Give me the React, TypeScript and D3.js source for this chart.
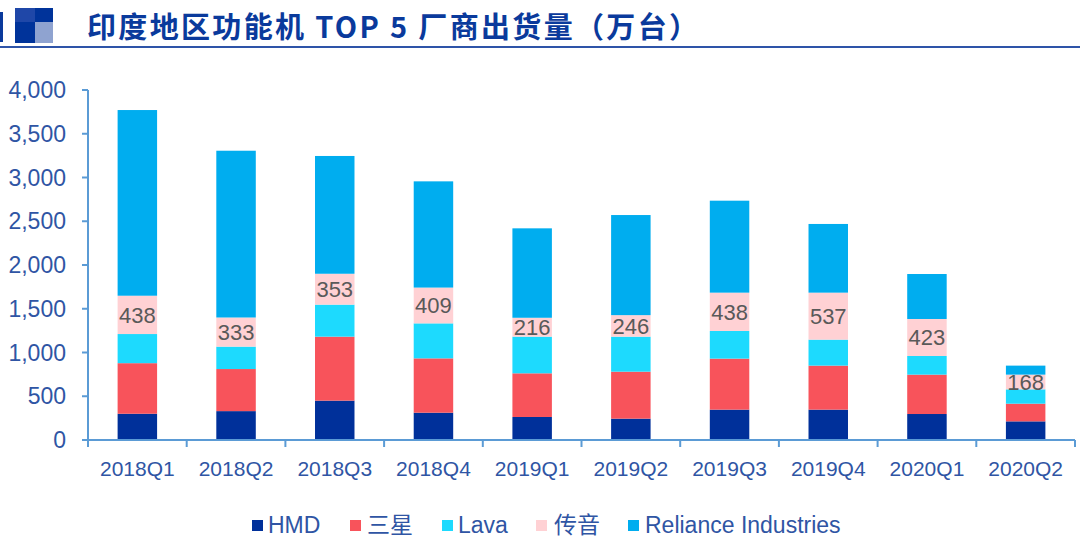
import React from "react";
import * as d3 from "d3";

const categories = ["2018Q1","2018Q2","2018Q3","2018Q4","2019Q1","2019Q2","2019Q3","2019Q4","2020Q1","2020Q2"];
const seriesNames = ["HMD","三星","Lava","传音","Reliance Industries"];
const hmd = [300, 330, 450, 312, 263, 244, 347, 347, 297, 213];
const samsung = [578, 481, 731, 621, 499, 537, 583, 503, 450, 202];
const lava = [333, 256, 366, 400, 419, 400, 316, 297, 213, 164];
const transsion = [438, 333, 353, 409, 216, 246, 438, 537, 423, 168];
const reliance = [2122, 1906, 1346, 1214, 1022, 1144, 1051, 785, 514, 103];
const yTicks = [0, 500, 1000, 1500, 2000, 2500, 3000, 3500, 4000];
const colors = ["#00309A", "#F8535B", "#1DDAFE", "#FFD1D4", "#00ADEF"];

const W = 1080, H = 557;
const axisColor = "#5B9BD5";
const textColor = "#2F55A4";
const font = "'Liberation Sans', Arial, 'Noto Sans CJK SC', sans-serif";

export default function App() {
  const rows = categories.map((c, i) => ({
    cat: c,
    s0: hmd[i], s1: samsung[i], s2: lava[i], s3: transsion[i], s4: reliance[i],
  }));
  const keys = ["s0", "s1", "s2", "s3", "s4"];
  const stack = d3.stack<any>().keys(keys)(rows);

  const x = d3.scaleBand<string>().domain(categories).range([88, 1075]).paddingInner(0.6).paddingOuter(0.3);
  const y = d3.scaleLinear().domain([0, 4000]).range([440, 90]);
  const step = x.step();
  const x0 = 88;

  const legendPos = [
    { sq: 252, tx: 268 },
    { sq: 350, tx: 367 },
    { sq: 442, tx: 458 },
    { sq: 536, tx: 554 },
    { sq: 628, tx: 645 },
  ];

  return (
    <svg width={W} height={H} style={{ position: "absolute", left: 0, top: 0, background: "#fff" }} fontFamily={font}>
      <rect x={0} y={0} width={W} height={H} fill="#fff" />
      {/* title icon */}
      <rect x={0} y={12} width={3} height={30} fill="#0A3A9C" />
      <rect x={15} y={8} width={20} height={14} fill="#1F47A8" />
      <rect x={35} y={8} width={18} height={14} fill="#00339A" />
      <rect x={15} y={22} width={20} height={21} fill="#00339A" />
      <rect x={35} y={22} width={18} height={21} fill="#8FA3D0" />
      <text x={87} y={38} fontSize={29} fontWeight={700} fill="#0A3A9C"
        fontFamily="'Noto Sans CJK SC', 'Noto Sans', sans-serif" textLength={611} lengthAdjust="spacing">
        印度地区功能机 TOP 5 厂商出货量（万台）
      </text>
      <rect x={0} y={46} width={W} height={2} fill="#2E54A8" />

      {/* bars */}
      {stack.map((layer, si) => (
        <g key={si} fill={colors[si]}>
          {layer.map((d: any, i: number) => (
            <rect key={i} x={x(categories[i])} y={y(d[1])} width={x.bandwidth()} height={y(d[0]) - y(d[1])} />
          ))}
        </g>
      ))}
      {/* 传音 labels */}
      {stack[3].map((d: any, i: number) => (
        <text key={i} x={(x(categories[i]) as number) + x.bandwidth() / 2} y={(y(d[0]) + y(d[1])) / 2 + 8}
          textAnchor="middle" fontSize={22} fill="#595959">{transsion[i]}</text>
      ))}

      {/* y axis */}
      <line x1={x0} x2={x0} y1={y(4000)} y2={y(0)} stroke={axisColor} strokeWidth={2} />
      {yTicks.map((t) => (
        <g key={t}>
          <line x1={x0 - 6} x2={x0} y1={y(t)} y2={y(t)} stroke={axisColor} strokeWidth={2} />
          <text x={66} y={y(t) + 8} textAnchor="end" fontSize={23} fill={textColor}>{d3.format(",")(t)}</text>
        </g>
      ))}
      {/* x axis */}
      <line x1={x0} x2={x0 + step * categories.length} y1={y(0)} y2={y(0)} stroke={axisColor} strokeWidth={2} />
      {d3.range(categories.length + 1).map((i) => (
        <line key={i} x1={x0 + i * step} x2={x0 + i * step} y1={y(0)} y2={y(0) + 7} stroke={axisColor} strokeWidth={2} />
      ))}
      {categories.map((c) => (
        <text key={c} x={(x(c) as number) + x.bandwidth() / 2} y={476} textAnchor="middle" fontSize={21} fill={textColor}>{c}</text>
      ))}

      {/* legend */}
      {seriesNames.map((n, i) => (
        <g key={n}>
          <rect x={legendPos[i].sq} y={520} width={11} height={11} fill={colors[i]} />
          <text x={legendPos[i].tx} y={533} fontSize={23} fill={textColor}>{n}</text>
        </g>
      ))}
    </svg>
  );
}
